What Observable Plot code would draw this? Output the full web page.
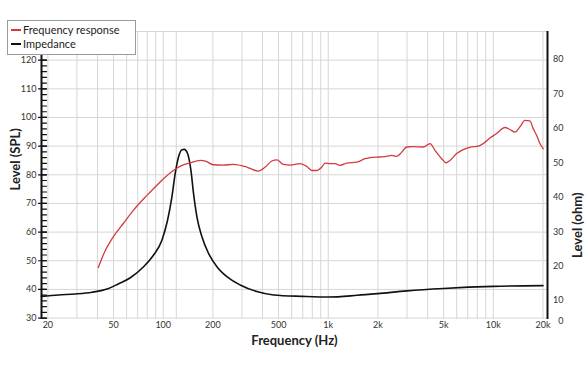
<!DOCTYPE html>
<html>
<head>
<meta charset="utf-8">
<script src="https://cdn.jsdelivr.net/npm/d3@7"></script>
<script src="https://cdn.jsdelivr.net/npm/@observablehq/plot@0.6"></script>
<style>
  html, body { margin: 0; padding: 0; background: #fff; }
  #wrap { position: relative; width: 588px; height: 372px; font-family: Lato, "Open Sans", sans-serif; }
  #legend { position: absolute; left: 7px; top: 20px; width: 127px; height: 33px; background: #fff; border: 1px solid #9a9a9a; font-size: 11px; color: #222; }
  #legend .row { position: absolute; left: 0; height: 14px; line-height: 14px; white-space: nowrap; }
  #legend .sw { position: absolute; left: 3px; top: 6px; width: 10px; height: 2px; }
  #legend .lb { position: absolute; left: 15px; top: 0; }
</style>
</head>
<body>
<div id="wrap">
  <div id="chart"></div>
  <div id="legend"></div>
</div>
<script>
// ---- data ----
const seriesNames = ["Frequency response", "Impedance"];
const seriesColors = ["#d33a40", "#111111"];

const frFreq = [40.4, 44.0, 49.1, 57.3, 65.9, 79.7, 95.9, 110, 127, 146, 168, 180, 201, 231, 265, 321, 376, 415, 455, 490, 535, 587, 675, 741, 795, 852, 914, 957, 1026, 1100, 1179, 1295, 1488, 1671, 1792, 2059, 2262, 2424, 2599, 2788, 2988, 3276, 3766, 4137, 4433, 4867, 5167, 5464, 5998, 6577, 7394, 8107, 8690, 9542, 10474, 11760, 12608, 13520, 14492, 15540, 16660, 17450, 18296, 19160, 20056];
const frSPL = [47.6, 52.9, 57.8, 63.0, 67.6, 72.8, 77.5, 80.6, 83.0, 84.2, 85.0, 84.8, 83.5, 83.4, 83.6, 82.7, 81.3, 82.7, 84.8, 85.2, 83.6, 83.4, 83.9, 82.9, 81.5, 81.5, 82.7, 84.1, 83.9, 83.9, 83.3, 84.1, 84.4, 85.6, 86.0, 86.2, 86.4, 86.8, 86.4, 87.9, 89.7, 89.8, 89.7, 90.9, 88.5, 85.6, 84.2, 85.0, 87.4, 88.8, 89.7, 90.0, 90.9, 92.8, 94.4, 96.5, 95.8, 94.9, 96.7, 99.0, 98.8, 96.1, 93.8, 90.9, 89.1];

const impFreq = [18.3, 23.2, 29.3, 37.0, 46.2, 53.4, 63.2, 76.0, 87.4, 98.2, 106.2, 112.9, 118.2, 123.8, 129.8, 134.1, 140.4, 147.2, 152.6, 160, 171.6, 188.1, 211.5, 243, 292.6, 369, 466, 700, 1000, 1500, 2000, 3000, 5000, 10000, 20000];
const impOhm = [11.2, 11.6, 11.9, 12.4, 13.4, 14.8, 16.6, 19.8, 23.2, 27.5, 33.3, 40.1, 46.9, 51.7, 53.8, 53.9, 52.7, 47.8, 41.1, 34.3, 28.5, 23.7, 19.8, 16.9, 14.5, 12.6, 11.6, 11.2, 11.0, 11.5, 12.0, 12.8, 13.5, 14.1, 14.3];

const xTickValues = [20, 50, 100, 200, 500, 1000, 2000, 5000, 10000, 20000];
const xTickLabels = ["20", "50", "100", "200", "500", "1k", "2k", "5k", "10k", "20k"];
const gridFreqs = [20, 30, 40, 50, 60, 70, 80, 90, 100, 120, 200, 300, 400, 500, 600, 700, 800, 900, 1000, 2000, 3000, 4000, 5000, 6000, 7000, 8000, 9000, 10000, 20000];
const splTicks = [30, 40, 50, 60, 70, 80, 90, 100, 110, 120];
const splGrid = [30, 40, 50, 60, 70, 80, 90, 100, 110, 120, 130];
const splMinorTicks = d3.range(30, 131, 2);
const ohmTicks = [0, 10, 20, 30, 40, 50, 60, 70, 80];

const xDomain = [18.3, 21300];
const yDomain = [29.5, 130];

// dual-axis mapping: ohm -> SPL coordinate
const ohmRef = {ohm: 80, spl: 120.23, ratio: 1.2013, minSPL: 28.8};
const toSPL = v => Math.max(ohmRef.spl - (ohmRef.ohm - v) * ohmRef.ratio, ohmRef.minSPL);

const fr = frFreq.map((f, i) => ({f, v: frSPL[i]}));
const imp = impFreq.map((f, i) => ({f, v: toSPL(impOhm[i])}));
const xTicks = xTickValues.map((v, i) => ({v, label: xTickLabels[i]}));

const gridColor = "#d6d6d6";
const tickShape = {draw(context, l) { context.moveTo(0, 0); context.lineTo(0, -l); }};

const chart = Plot.plot({
  width: 588,
  height: 372,
  marginLeft: 41,
  marginRight: 41,
  marginTop: 31,
  marginBottom: 53,
  style: {fontFamily: "Lato, 'Open Sans', sans-serif", fontSize: "9px", color: "#333", background: "transparent"},
  x: {type: "log", domain: xDomain, label: null, axis: null},
  y: {domain: yDomain, label: null, axis: null},
  marks: [
    Plot.ruleX(gridFreqs, {stroke: gridColor, strokeWidth: 1}),
    Plot.ruleY(splGrid, {stroke: gridColor, strokeWidth: 1}),
    Plot.line(imp, {x: "f", y: "v", stroke: seriesColors[1], strokeWidth: 1.6, curve: "monotone-x"}),
    Plot.line(fr, {x: "f", y: "v", stroke: seriesColors[0], strokeWidth: 1.3, curve: "monotone-x"}),
    Plot.ruleX([xDomain[0], xDomain[1]], {stroke: "#111", strokeWidth: 2}),
    Plot.vector(splMinorTicks, {y: d => d, frameAnchor: "left", rotate: 90, length: 5, anchor: "start", shape: tickShape, stroke: "#111", strokeWidth: 1.2}),
    Plot.vector(splTicks, {y: d => d, frameAnchor: "left", dx: -3, rotate: 90, length: 8, anchor: "start", shape: tickShape, stroke: "#111", strokeWidth: 1.2}),
    Plot.text(splTicks, {y: d => d, text: d => String(d), frameAnchor: "left", dx: -5, textAnchor: "end", fill: "#333", fontSize: 9}),
    Plot.text(xTicks, {x: "v", text: "label", frameAnchor: "bottom", dy: 8, fill: "#333", fontSize: 9}),
    Plot.text(ohmTicks, {y: d => toSPL(d), text: d => String(d), frameAnchor: "right", dx: 16, textAnchor: "end", fill: "#333", fontSize: 9}),
    Plot.text(["Level (SPL)"], {frameAnchor: "left", dx: -26, dy: 15, rotate: -90, fontSize: 13, fontWeight: "bold", fill: "#222"}),
    Plot.text(["Level (ohm)"], {frameAnchor: "right", dx: 30, dy: 17, rotate: -90, fontSize: 13, fontWeight: "bold", fill: "#222"}),
    Plot.text(["Frequency (Hz)"], {frameAnchor: "bottom", dy: 25, fontSize: 13, fontWeight: "bold", fill: "#222"})
  ]
});
document.getElementById("chart").appendChild(chart);

// legend
const legend = document.getElementById("legend");
seriesNames.forEach((name, i) => {
  const row = document.createElement("div");
  row.className = "row";
  row.style.top = (2 + i * 14) + "px";
  row.innerHTML = `<span class="sw" style="background:${seriesColors[i]}"></span><span class="lb">${name}</span>`;
  legend.appendChild(row);
});
</script>
</body>
</html>
